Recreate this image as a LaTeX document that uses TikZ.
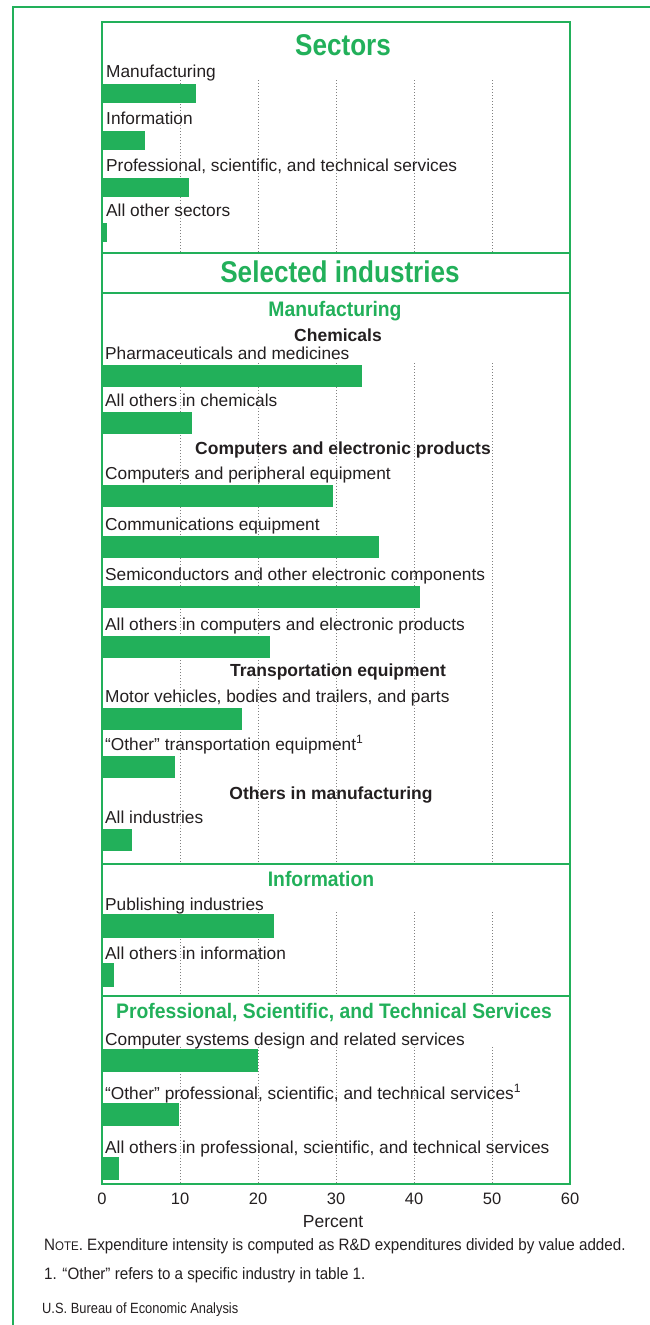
\documentclass[tikz,border=0pt]{standalone}
\usepackage{fontspec}
\setmainfont{Liberation Sans}
\newfontfamily\narrowsf[FakeStretch=0.87]{Liberation Sans}
\newfontfamily\semisf[FakeStretch=0.92]{Liberation Sans}
\definecolor{beagreen}{RGB}{34,176,90}
\definecolor{inkgray}{RGB}{35,31,32}
\tikzset{
  frame/.style={draw=beagreen,line width=2pt},
  grid/.style={draw=gray,line width=0.6pt,dash pattern=on 0.8pt off 2.2pt},
  bar/.style={fill=beagreen},
  lbl/.style={anchor=base west,inner sep=0pt,text=inkgray,font=\fontsize{17.3}{19}\selectfont},
  bigtitle/.style={inner sep=0pt,text=beagreen,font=\narrowsf\bfseries\fontsize{30}{32}\selectfont},
  subtitle/.style={inner sep=0pt,text=beagreen,font=\semisf\bfseries\fontsize{21}{23}\selectfont},
  grouphead/.style={inner sep=0pt,text=inkgray,font=\bfseries\fontsize{17.5}{19}\selectfont},
  ticklbl/.style={inner sep=0pt,text=inkgray,font=\fontsize{16.5}{18}\selectfont},
  notetxt/.style={anchor=west,inner sep=0pt,text=inkgray,font=\semisf\fontsize{16.5}{18}\selectfont}
}
\begin{document}
\begin{tikzpicture}[x=1pt,y=-1pt]
\useasboundingbox (0,0) rectangle (650,1325);
% outer frame
\draw[frame,line width=2.5pt] (13,1325) -- (13,7) -- (650,7);
% grid
\foreach \v in {10,20,30,40,50}
  \foreach \a/\b in {80/253,363/864,912/996,1047/1184}
    \draw[grid] ({102+7.8*\v},\a) -- ({102+7.8*\v},\b);
% sectors
\foreach \n/\by/\v/\txt in {secMan/84/12.0/Manufacturing,
    secInf/131/5.5/Information,
    secPro/178/11.2/{Professional, scientific, and technical services},
    secOth/223/0.7/All other sectors} {
  \node[lbl] (\n) at (106,\by-7) {\txt};
  \fill[bar] (102,\by) rectangle ({102+7.8*\v},\by+19);
}
% manufacturing
\foreach \n/\by/\v/\txt in {phar/365/33.3/Pharmaceuticals and medicines,
    chemO/412/11.5/All others in chemicals,
    comp/485/29.6/Computers and peripheral equipment,
    comm/536/35.5/Communications equipment,
    semi/586/40.8/Semiconductors and other electronic components,
    compO/636/21.5/All others in computers and electronic products,
    motor/708/18.0/{Motor vehicles, bodies and trailers, and parts},
    trnO/756/9.4/{“Other” transportation equipment\textsuperscript{1}},
    allInd/829/3.8/All industries} {
  \node[lbl] (\n) at (105,\by-6) {\txt};
  \fill[bar] (102,\by) rectangle ({102+7.8*\v},\by+22);
}
% information
\foreach \n/\by/\v/\txt in {publ/914/22.0/Publishing industries,
    infO/963/1.5/All others in information} {
  \node[lbl] (\n) at (105,\by-4) {\txt};
  \fill[bar] (102,\by) rectangle ({102+7.8*\v},\by+24);
}
% professional services
\foreach \n/\by/\v/\txt in {csys/1049/20.0/Computer systems design and related services,
    proO/1103/9.9/{“Other” professional, scientific, and technical services\textsuperscript{1}},
    proAll/1157/2.2/{All others in professional, scientific, and technical services}} {
  \node[lbl] (\n) at (105,\by-4) {\txt};
  \fill[bar] (102,\by) rectangle ({102+7.8*\v},\by+23);
}
% panels
\draw[frame] (102,22) rectangle (570,1184);
\foreach \yy in {253,293,864,996}
  \draw[frame] (102,\yy) -- (570,\yy);
% titles
\node[bigtitle] (sectT) at (343,45) {Sectors};
\node[bigtitle] (indT) at (340,272) {Selected industries};
\node[subtitle] (manT) at (335,311) {Manufacturing};
\node[grouphead] (chemT) at (338,335) {Chemicals};
\node[grouphead] (compT) at (343,450) {Computers and electronic products};
\node[grouphead] (trnT) at (338,672) {Transportation equipment};
\node[grouphead] (othT) at (331,795) {Others in manufacturing};
\node[subtitle] (infT) at (321,879) {Information};
\node[subtitle] (proT) at (334,1013) {Professional, Scientific, and Technical Services};
% axis
\foreach \v in {0,10,...,60}
  \node[ticklbl] (tk\v) at ({102+7.8*\v},1199) {\v};
\node[ticklbl,font=\fontsize{17.5}{19}\selectfont] (pct) at (333,1222) {Percent};
% notes
\node[notetxt] (note) at (44,1246) {N{\fontsize{12.5}{13}\selectfont OTE}. Expenditure intensity is computed as R\&D expenditures divided by value added.};
\node[notetxt] (fn1) at (44,1275) {1. “Other” refers to a specific industry in table 1.};
\node[notetxt,font=\narrowsf\fontsize{14.8}{16}\selectfont] (src) at (42,1310) {U.S. Bureau of Economic Analysis};
\end{tikzpicture}
\end{document}
